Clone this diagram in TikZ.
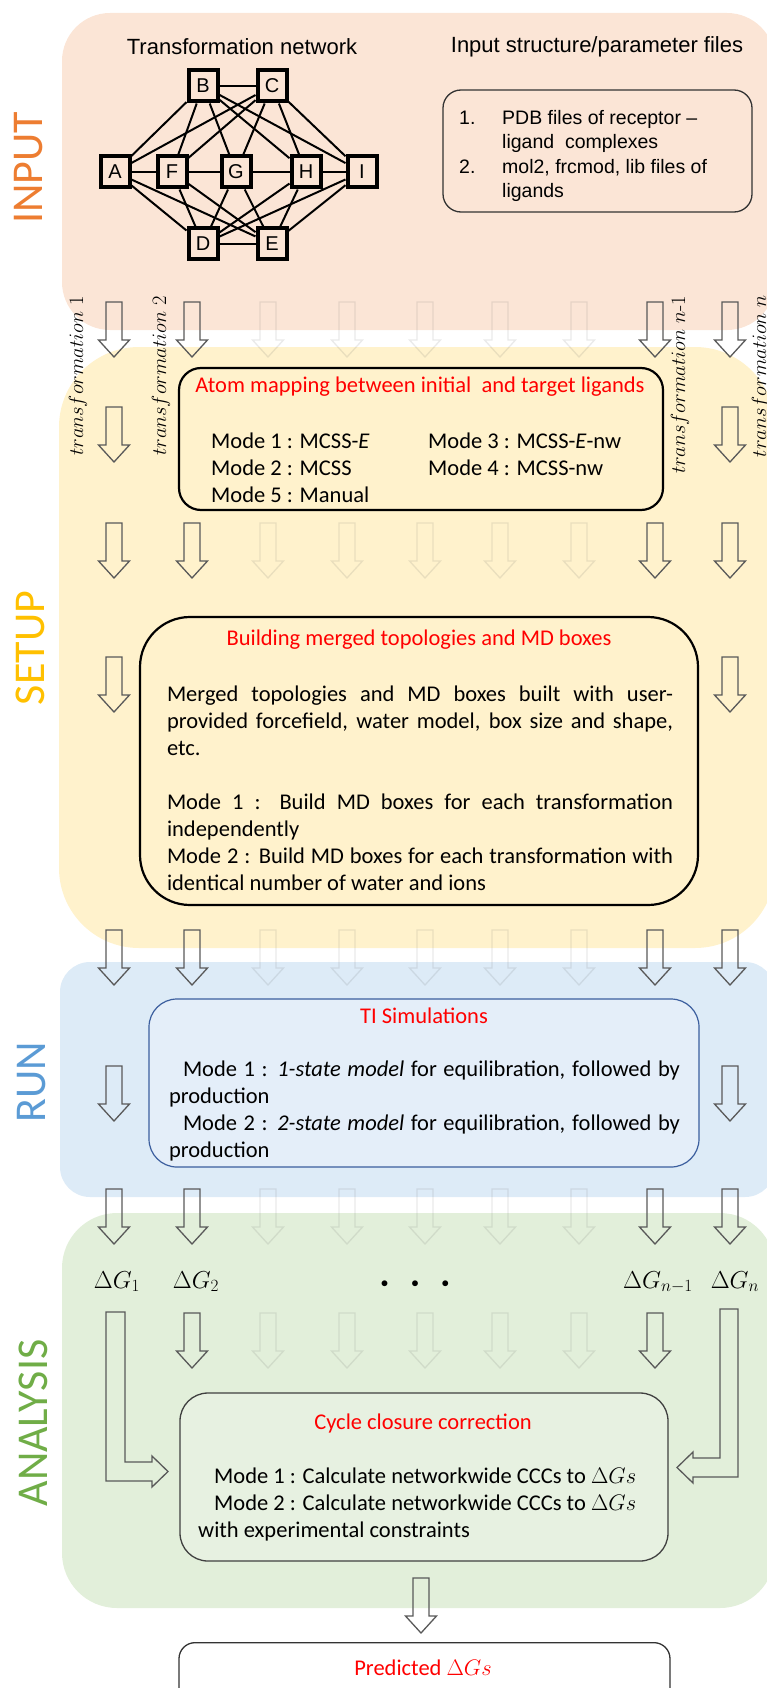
\RequirePackage{fix-cm}
\documentclass[tikz,border=0pt]{standalone}
\usepackage{fontspec}
\newfontfamily\calibri{Carlito}
\newfontfamily\arial{Liberation Sans}
\usepackage{tikz}
\setlength{\parindent}{0pt}
\definecolor{inputbg}{HTML}{FBE5D6}
\definecolor{setupbg}{HTML}{FFF2CC}
\definecolor{runbg}{HTML}{DDEBF7}
\definecolor{analysisbg}{HTML}{E2EFDA}
\definecolor{tibg}{HTML}{E4EEF9}
\definecolor{cyclebg}{HTML}{E7F1E1}
\definecolor{inputfg}{HTML}{ED7D31}
\definecolor{setupfg}{HTML}{FFC000}
\definecolor{runfg}{HTML}{5B9BD5}
\definecolor{analysisfg}{HTML}{70AD47}
\definecolor{tiborder}{HTML}{3B5E9E}

\begin{document}
\begin{tikzpicture}[
        x=1pt,
        y=1pt,
        yscale=-1,
        header/.style={font=\arial\fontsize{22}{26}\selectfont},
        netnode/.style={draw, line width=4pt, fill=inputbg, minimum width=29pt, minimum height=31pt, inner sep=0pt, font=\arial\fontsize{20}{22}\selectfont},
        netedge/.style={line width=2pt},
        stagelabel/.style={rotate=90, font=\calibri\fontsize{44}{50}\selectfont},
        translabel/.style={rotate=90, font=\fontsize{20.5}{24}\selectfont},
        stagebox/.style={draw, rounded corners=#1, inner sep=0pt},
        boxtitle/.style={text=red, font=\calibri\fontsize{22.5}{27}\selectfont},
        boxtext/.style={font=\calibri\fontsize{22.5}{27}\selectfont, inner sep=0pt},
        dglabel/.style={font=\fontsize{24.5}{28}\selectfont, inner sep=0pt, anchor=base},
        blockarrow/.style={draw=black!65, line width=1.3pt},
        faint/.style={blockarrow, draw opacity=0.13},
        pics/downblock/.style={code={
            \draw[pic actions] (-8,0) -- (8,0) -- (8,-38) -- (15.5,-38) -- (0,-55) -- (-15.5,-38) -- (-8,-38) -- cycle;
        }}
    ]
    \useasboundingbox (0,0) rectangle (767,1688);

    \fill[inputbg, rounded corners=48pt] (62,13) rectangle (775,330);
    \fill[setupbg, rounded corners=80pt] (59,347) rectangle (775,948);
    \fill[runbg, rounded corners=30pt] (60,962) rectangle (775,1197);
    \fill[analysisbg, rounded corners=55pt] (62,1213) rectangle (775,1608);

    \node[stagelabel, text=inputfg] (inlabel) at (29,168) {INPUT};
    \node[stagelabel, text=setupfg] (setuplabel) at (30,648) {SETUP};
    \node[stagelabel, text=runfg] (runlabel) at (32,1082) {RUN};
    \node[stagelabel, text=analysisfg] (analysislabel) at (33,1423) {ANALYSIS};

    \node[header] (nettitle) at (242,47) {Transformation network};
    \node[header] (filetitle) at (597,47) {Input structure/parameter files};

    \node[netnode] (B) at (203,86) {B};
    \node[netnode] (C) at (272,86) {C};
    \node[netnode] (A) at (115,172) {A};
    \node[netnode] (F) at (172,172) {F};
    \node[netnode] (G) at (236,172) {G};
    \node[netnode] (H) at (306,172) {H};
    \node[netnode] (I) at (362,172) {I};
    \node[netnode] (D) at (203,244) {D};
    \node[netnode] (E) at (272,244) {E};
    \draw[netedge] (B) -- (C) (A) -- (F) (F) -- (G) (G) -- (H) (H) -- (I) (D) -- (E);
    \foreach \u in {B,C,D,E}
        \foreach \v in {A,F,G,H,I}
            \draw[netedge] (\u) -- (\v);

    \node[draw=black!80, line width=1.3pt, rounded corners=18pt, minimum width=309pt, minimum height=122pt, fill=inputbg] (filebox) at (597.5,151) {};
    \node[anchor=west, inner sep=0pt, font=\arial\fontsize{19.5}{24.4}\selectfont] (filelist) at (459,156)
        {\begin{tabular}{@{}p{43pt}@{}l@{}}1. & PDB files of receptor –\\ & ligand~~complexes\\ 2. & mol2, frcmod, lib files of\\ & ligands\end{tabular}};

    \foreach \y in {302,523,930,1189} {
        \foreach \x in {114,192,655,730}
            \pic[blockarrow] at (\x,\y) {downblock};
        \foreach \x in {268,347,425,500,579}
            \pic[faint] at (\x,\y) {downblock};
    }
    \foreach \y in {407,657,1066}
        \foreach \x in {114,730}
            \pic[blockarrow] at (\x,\y) {downblock};
    \foreach \x in {192,655}
        \pic[blockarrow] at (\x,1313) {downblock};
    \foreach \x in {268,347,425,500,579}
        \pic[faint] at (\x,1313) {downblock};

    \node[translabel] (trans1) at (78,376) {$transformation\ 1$};
    \node[translabel] (trans2) at (161,376) {$transformation\ 2$};
    \node[translabel] (transm) at (680,385) {$transformation\ n$-$1$};
    \node[translabel] (transn) at (761,376) {$transformation\ n$};

    \node[stagebox=22pt, line width=2.2pt, minimum width=484pt, minimum height=142pt] (mapbox) at (421,439) {};
    \node[boxtitle] (maptitle) at (420,387) {Atom mapping between initial~~and target ligands};
    \node[boxtext, anchor=west, align=left] (mapleft) at (211,467.5) {Mode 1 : MCSS-\textit{E}\\Mode 2 : MCSS\\Mode 5 : Manual};
    \node[boxtext, anchor=west, align=left] (mapright) at (428,454.5) {Mode 3 : MCSS-\textit{E}-nw\\Mode 4 : MCSS-nw};

    \node[stagebox=50pt, line width=2.2pt, minimum width=558pt, minimum height=288pt] (buildbox) at (419,761) {};
    \node[boxtitle] (buildtitle) at (419,640) {Building merged topologies and MD boxes};
    \node[boxtext, text width=506pt, align=justify] (buildtext) at (420,788)
        {Merged topologies and MD boxes built with user-\linebreak provided forcefield, water model, box size and shape,\linebreak etc.\par\null\par
         Mode 1 : Build MD boxes for each transformation\linebreak independently\par
         Mode 2 : Build MD boxes for each transformation with\linebreak identical number of water and ions};

    \node[stagebox=28pt, draw=tiborder, line width=1.2pt, fill=tibg, minimum width=550pt, minimum height=168pt] (tibox) at (424,1083) {};
    \node[boxtitle] (tititle) at (424,1016) {TI Simulations};
    \node[boxtext, text width=511pt, align=justify] (titext) at (424.5,1110.5)
        {\hspace*{14pt}Mode 1 : \textit{1-state model} for equilibration, followed by\linebreak production\par
         \hspace*{14pt}Mode 2 : \textit{2-state model} for equilibration, followed by\linebreak production};

    \node[dglabel] (dg1) at (117,1288) {$\Delta G_1$};
    \node[dglabel] (dg2) at (196,1288) {$\Delta G_2$};
    \node[dglabel, font=\fontsize{15}{18}\selectfont] (dots) at (415,1287) {$\bullet\hskip19.5pt\bullet\hskip19.5pt\bullet$};
    \node[dglabel] (dgm) at (658,1288) {$\Delta G_{n-1}$};
    \node[dglabel] (dgn) at (735,1288) {$\Delta G_n$};

    \draw[blockarrow] (106,1312) -- (125,1312) -- (125,1462) -- (152,1462) -- (152,1456) -- (168,1471.5) -- (152,1487) -- (152,1481) -- (106,1481) -- cycle;
    \draw[blockarrow] (738,1309) -- (720,1309) -- (720,1458) -- (693,1458) -- (693,1452) -- (677,1467.5) -- (693,1483) -- (693,1477) -- (738,1477) -- cycle;

    \node[stagebox=28pt, draw=black!75, line width=1.3pt, fill=cyclebg, minimum width=488pt, minimum height=168pt] (cyclebox) at (424,1477) {};
    \node[boxtitle] (cycletitle) at (423,1423) {Cycle closure correction};
    \node[boxtext, anchor=west, align=left] (cycletext) at (198,1504)
        {\hspace*{16pt}Mode 1 : Calculate networkwide CCCs to $\Delta Gs$\\
         \hspace*{16pt}Mode 2 : Calculate networkwide CCCs to $\Delta Gs$\\
         with experimental constraints};

    \pic[blockarrow] at (421,1578) {downblock};

    \node[stagebox=16pt, draw=black!80, line width=1.3pt, fill=white, minimum width=491pt, minimum height=110pt, anchor=north] (predbox) at (424.5,1642) {};
    \node[boxtitle] (predtitle) at (423,1668) {Predicted $\Delta Gs$};
\end{tikzpicture}
\end{document}
